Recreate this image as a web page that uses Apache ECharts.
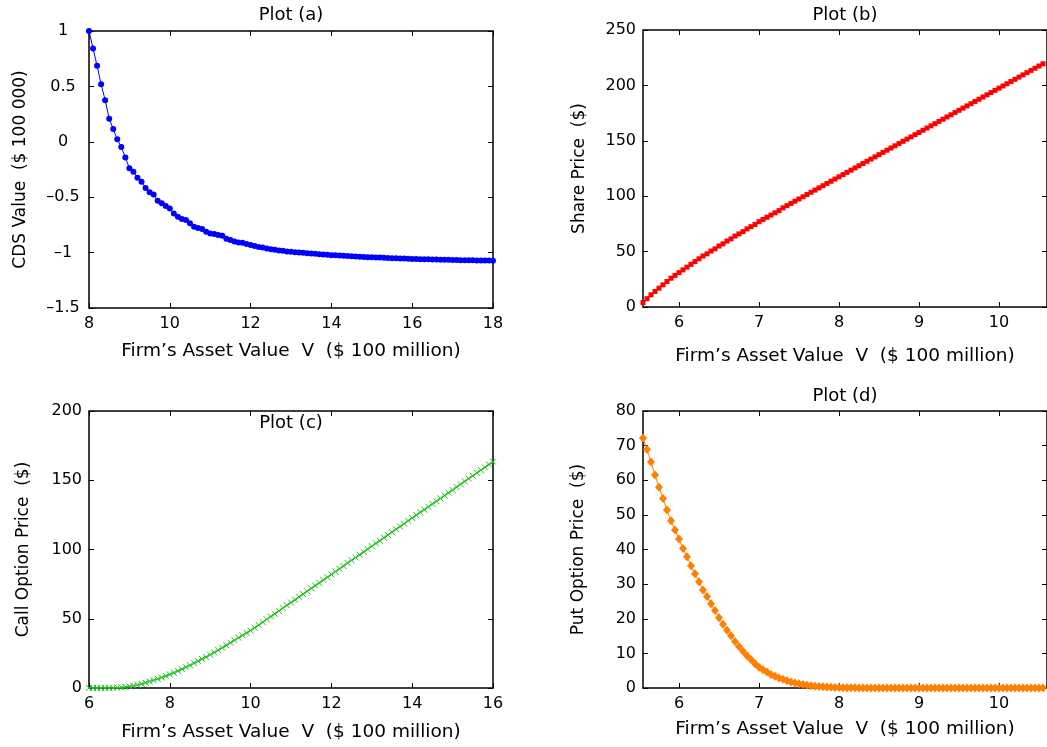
<!DOCTYPE html>
<html>
<head>
<meta charset="utf-8">
<script src="https://cdn.jsdelivr.net/npm/echarts@6/dist/echarts.min.js"></script>
<style>html,body{margin:0;padding:0;background:#fff}#c{width:1047px;height:747px}</style>
</head>
<body>
<div id="c"></div>
<script>
// ---- Data ----
// Plot (a): CDS value vs firm asset value, V = 8.0 .. 18.0 step 0.1
const xStartA = 8.0, xStepA = 0.1;
const cdsValues = [
  1.0, 0.843, 0.686, 0.52, 0.375, 0.209, 0.115, 0.022, -0.048, -0.141,
  -0.238, -0.27, -0.325, -0.36, -0.416, -0.455, -0.476, -0.531, -0.555, -0.579,
  -0.603, -0.646, -0.676, -0.697, -0.706, -0.736, -0.766, -0.778, -0.787, -0.812,
  -0.827, -0.833, -0.842, -0.848, -0.875, -0.887, -0.899, -0.908, -0.911, -0.923,
  -0.932, -0.941, -0.950, -0.953, -0.963, -0.969, -0.975, -0.981, -0.984, -0.990,
  -0.993, -0.996, -0.999, -1.002, -1.005, -1.008, -1.011, -1.014, -1.017, -1.020,
  -1.023, -1.025, -1.027, -1.029, -1.031, -1.034, -1.036, -1.038, -1.039, -1.041,
  -1.042, -1.044, -1.045, -1.047, -1.048, -1.050, -1.051, -1.053, -1.054, -1.056,
  -1.057, -1.058, -1.059, -1.060, -1.061, -1.062, -1.063, -1.064, -1.065, -1.065,
  -1.066, -1.067, -1.068, -1.069, -1.069, -1.070, -1.071, -1.071, -1.072, -1.072,
  -1.073
];
// Plot (b): share price, V = 5.55 .. 10.55 step 0.05
const xStartB = 5.55, xStepB = 0.05;
const shareValues = [
  4, 7.5, 11, 14, 17, 20, 23, 26, 28.5, 31,
  33.5, 36, 38.5, 41, 43.5, 46, 48, 50.5, 52.5, 55,
  57, 59.5, 61.5, 64, 66, 68, 70.5, 72.5, 74.5, 77,
  79, 81, 83, 85, 87, 89.5, 91.5, 93.5, 95.5, 97.5,
  99.5, 101.5, 103.5, 105.5, 107.5, 109.5, 111.5, 113.5, 115.5, 117.5,
  119.5, 121.5, 123.5, 125.5, 127.5, 129.5, 131.5, 133.5, 135.5, 137.5,
  139.5, 141.5, 143.5, 145.5, 147.5, 149.5, 151.5, 153.5, 155.5, 157.5,
  159.5, 161.5, 163.5, 165.5, 167.5, 169.5, 171.5, 173.5, 175.5, 177.5,
  179.5, 181.5, 183.5, 185.5, 187.5, 189.5, 191.5, 193.5, 195.5, 197.5,
  199.5, 201.5, 203.5, 205.5, 207.5, 209.5, 211.5, 213.5, 215.5, 217.5,
  219.5
];
// Plot (c): call option price, V = 6.0 .. 16.0 step 0.1
const xStartC = 6.0, xStepC = 0.1;
const callValues = [
  0.00, 0.00, 0.01, 0.02, 0.05, 0.09, 0.17, 0.3, 0.5, 0.8,
  1.2, 1.7, 2.3, 3.0, 3.8, 4.7, 5.6, 6.6, 7.6, 8.7,
  9.8, 11.0, 12.3, 13.6, 15.0, 16.4, 17.9, 19.4, 20.9, 22.4,
  24.0, 25.7, 27.4, 29.1, 30.9, 32.7, 34.5, 36.3, 38.0, 39.8,
  41.5, 43.5, 45.5, 47.5, 49.6, 51.6, 53.6, 55.6, 57.7, 59.7,
  61.7, 63.7, 65.8, 67.8, 69.8, 71.9, 73.9, 75.9, 78.0, 80.0,
  82.0, 84.1, 86.1, 88.1, 90.2, 92.2, 94.2, 96.3, 98.3, 100.3,
  102.4, 104.4, 106.4, 108.5, 110.5, 112.5, 114.6, 116.6, 118.6, 120.7,
  122.7, 124.7, 126.8, 128.8, 130.8, 132.9, 134.9, 136.9, 139.0, 141.0,
  143.0, 145.1, 147.1, 149.2, 151.2, 153.2, 155.3, 157.3, 159.3, 161.4,
  163.4
];
// Plot (d): put option price, V = 5.55 .. 10.55 step 0.05
const xStartD = 5.55, xStepD = 0.05;
const putValues = [
  72.2, 68.9, 65.3, 61.5, 58.0, 54.7, 51.4, 48.3, 45.6, 43.0,
  40.3, 37.9, 35.3, 33.0, 30.7, 28.3, 26.4, 24.3, 22.4, 20.3,
  18.4, 16.7, 15.1, 13.4, 12.0, 10.6, 9.3, 8.2, 7.0, 6.0,
  5.3, 4.6, 3.9, 3.4, 2.9, 2.5, 2.1, 1.75, 1.45, 1.2,
  1.0, 0.82, 0.67, 0.54, 0.44, 0.35, 0.28, 0.22, 0.17, 0.13,
  0.1, 0.08, 0.06, 0.045, 0.035, 0.027, 0.02, 0.015, 0.011, 0.008,
  0.006, 0.005, 0.004, 0.003, 0.002, 0.002, 0.001, 0.001, 0.001, 0.001,
  0, 0, 0, 0, 0, 0, 0, 0, 0, 0,
  0, 0, 0, 0, 0, 0, 0, 0, 0, 0,
  0, 0, 0, 0, 0, 0, 0, 0, 0, 0,
  0
];
// Tick values
const xTicksA = [8, 10, 12, 14, 16, 18];
const yTicksA = [-1.5, -1, -0.5, 0, 0.5, 1];
const xTicksB = [6, 7, 8, 9, 10];
const yTicksB = [0, 50, 100, 150, 200, 250];
const xTicksC = [6, 8, 10, 12, 14, 16];
const yTicksC = [0, 50, 100, 150, 200];
const xTicksD = [6, 7, 8, 9, 10];
const yTicksD = [0, 10, 20, 30, 40, 50, 60, 70, 80];

const titles = ['Plot (a)', 'Plot (b)', 'Plot (c)', 'Plot (d)'];
const xName = 'Firm\u2019s Asset Value  V  ($ 100 million)';
const yNames = ['CDS Value  ($ 100 000)', 'Share Price  ($)', 'Call Option Price  ($)', 'Put Option Price  ($)'];

function pairs(x0, step, vals) {
  return vals.map((v, i) => [+(x0 + step * i).toFixed(4), v]);
}

// ---- Chart ----
const FONT = 'DejaVu Sans';
const chart = echarts.init(document.getElementById('c'), null, {renderer: 'canvas'});

const grids = [
  {left: 89, top: 31, width: 404, height: 277},
  {left: 643, top: 30, width: 404, height: 277},
  {left: 89, top: 411, width: 404, height: 277},
  {left: 643, top: 411, width: 404, height: 277}
];

const xCfg = [
  {min: 8, max: 18, ticks: xTicksA, gap: 34},
  {min: 5.55, max: 10.6, ticks: xTicksB, gap: 40},
  {min: 6, max: 16, ticks: xTicksC, gap: 35},
  {min: 5.55, max: 10.6, ticks: xTicksD, gap: 32}
];
const yCfg = [
  {min: -1.5, max: 1, ticks: yTicksA, gap: 60, align: 'center', margin: 26},
  {min: 0, max: 250, ticks: yTicksB, gap: 55, align: 'right', margin: 7},
  {min: 0, max: 200, ticks: yTicksC, gap: 57, align: 'right', margin: 7},
  {min: 0, max: 80, ticks: yTicksD, gap: 56, align: 'right', margin: 7}
];

const tickStyle = {color: '#000', width: 1};
const xAxes = [], yAxes = [];
xCfg.forEach((c, i) => {
  xAxes.push({
    type: 'value', gridIndex: i, min: c.min, max: c.max, position: 'bottom',
    axisLine: {show: false, onZero: false}, splitLine: {show: false},
    axisTick: {show: true, inside: true, length: 5, lineStyle: tickStyle, customValues: c.ticks},
    axisLabel: {show: true, customValues: c.ticks, margin: 8, color: '#000', fontFamily: FONT, fontSize: 16},
    name: xName, nameLocation: 'middle', nameGap: c.gap,
    nameTextStyle: {color: '#000', fontFamily: FONT, fontSize: 18.5}
  });
  xAxes.push({
    type: 'value', gridIndex: i, min: c.min, max: c.max, position: 'top',
    axisLine: {show: false, onZero: false}, splitLine: {show: false},
    axisTick: {show: true, inside: true, length: 5, lineStyle: tickStyle, customValues: c.ticks},
    axisLabel: {show: false, customValues: c.ticks}
  });
});
yCfg.forEach((c, i) => {
  yAxes.push({
    type: 'value', gridIndex: i, min: c.min, max: c.max, position: 'left',
    axisLine: {show: false, onZero: false}, splitLine: {show: false},
    axisTick: {show: true, inside: true, length: 5, lineStyle: tickStyle, customValues: c.ticks},
    axisLabel: {show: true, customValues: c.ticks, margin: c.margin, align: c.align, color: '#000',
      fontFamily: FONT, fontSize: 16, formatter: v => String(v).replace('-', '\u2013')},
    name: yNames[i], nameLocation: 'middle', nameGap: c.gap, nameRotate: 90,
    nameTextStyle: {color: '#000', fontFamily: FONT, fontSize: 17}
  });
  yAxes.push({
    type: 'value', gridIndex: i, min: c.min, max: c.max, position: 'right',
    axisLine: {show: false, onZero: false}, splitLine: {show: false},
    axisTick: {show: true, inside: true, length: 5, lineStyle: tickStyle, customValues: c.ticks},
    axisLabel: {show: false, customValues: c.ticks}
  });
});

const xPath = 'path://M0,0L10,10M0,10L10,0';

const series = [
  {type: 'line', xAxisIndex: 0, yAxisIndex: 0, data: pairs(xStartA, xStepA, cdsValues),
   symbol: 'circle', symbolSize: 6, showAllSymbol: true,
   lineStyle: {color: '#0000ff', width: 1}, itemStyle: {color: '#0000ff'}},
  {type: 'line', xAxisIndex: 2, yAxisIndex: 2, data: pairs(xStartB, xStepB, shareValues),
   symbol: 'rect', symbolSize: 5, showAllSymbol: true,
   lineStyle: {color: '#ff0000', width: 1.5}, itemStyle: {color: '#ff0000'}},
  {type: 'line', xAxisIndex: 4, yAxisIndex: 4, data: pairs(xStartC, xStepC, callValues),
   symbol: xPath, symbolSize: 6, showAllSymbol: true,
   lineStyle: {color: '#22c322', width: 1.3},
   itemStyle: {color: '#22c322', borderColor: '#22c322', borderWidth: 1}},
  {type: 'line', xAxisIndex: 6, yAxisIndex: 6, data: pairs(xStartD, xStepD, putValues),
   symbol: 'diamond', symbolSize: [8, 9], showAllSymbol: true,
   lineStyle: {color: '#ff8000', width: 1}, itemStyle: {color: '#ff8000'}}
];

const titlePos = [[291, 15], [845, 15], [291, 423], [845, 396]];
const graphic = titles.map((t, i) => ({
  type: 'text', x: titlePos[i][0], y: titlePos[i][1], z: 100,
  style: {text: t, fill: '#000', font: '18px "DejaVu Sans"', textAlign: 'center', textVerticalAlign: 'middle'}
}));

chart.setOption({
  animation: false,
  backgroundColor: '#fff',
  grid: grids.map(g => Object.assign({show: true, borderColor: '#000', borderWidth: 1.5, backgroundColor: 'transparent'}, g)),
  xAxis: xAxes,
  yAxis: yAxes,
  series: series,
  graphic: graphic
});
</script>
</body>
</html>
